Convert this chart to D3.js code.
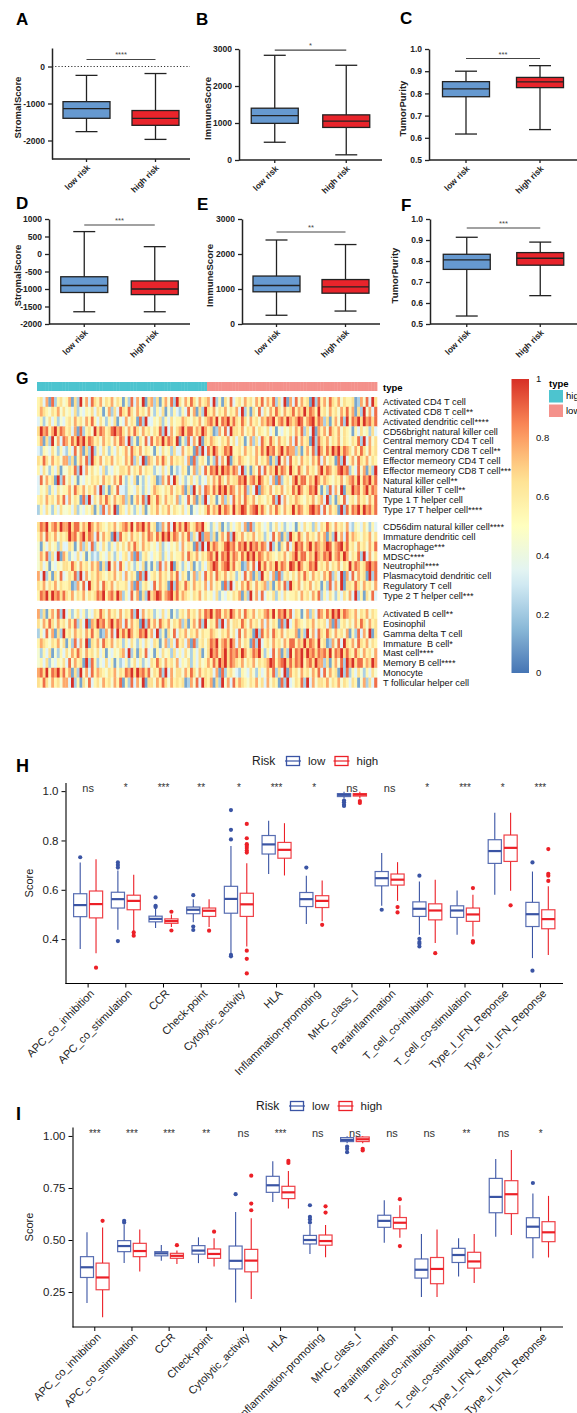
<!DOCTYPE html>
<html>
<head>
<meta charset="utf-8">
<script src="https://cdn.jsdelivr.net/npm/d3@7"></script>
<style>
  body { margin: 0; background: #fff; }
  svg { display: block; font-family: Arial, "Liberation Sans", sans-serif; }
  .pre { white-space: pre; }
</style>
</head>
<body>
<svg id="fig" width="577" height="1413"></svg>
<script>
// ---------- data: panels A-F (whisker low, Q1, median, Q3, whisker high) ----------
const riskGroups = ["low risk", "high risk"];
const aLow = [-1760, -1400, -1140, -950, -240], aHigh = [-1970, -1590, -1400, -1190, -190];
const bLow = [480, 990, 1200, 1400, 2830], bHigh = [140, 880, 1050, 1220, 2560];
const cLow = [0.617, 0.785, 0.82, 0.853, 0.90], cHigh = [0.637, 0.826, 0.852, 0.872, 0.925];
const dLow = [-1650, -1100, -900, -650, 640], dHigh = [-1650, -1160, -1000, -770, 210];
const eLow = [250, 920, 1100, 1370, 2400], eHigh = [370, 880, 1060, 1270, 2270];
const fLow = [0.538, 0.76, 0.805, 0.832, 0.913], fHigh = [0.635, 0.78, 0.813, 0.84, 0.89];

// ---------- data: panel G heatmap ----------
const heatGroup1 = ["Activated CD4 T cell", "Activated CD8 T cell**", "Activated dendritic cell****",
  "CD56bright natural killer cell", "Central memory CD4 T cell", "Central memory CD8 T cell**",
  "Effector memeory CD4 T cell", "Effector memeory CD8 T cell***", "Natural killer cell**",
  "Natural killer T cell**", "Type 1 T helper cell", "Type 17 T helper cell****"];
const heatGroup2 = ["CD56dim natural killer cell****", "Immature dendritic cell", "Macrophage***",
  "MDSC****", "Neutrophil****", "Plasmacytoid dendritic cell", "Regulatory T cell", "Type 2 T helper cell***"];
const heatGroup3 = ["Activated B cell**", "Eosinophil", "Gamma delta T cell", "Immature  B cell*",
  "Mast cell****", "Memory B cell****", "Monocyte", "T follicular helper cell"];
const nHigh = 60, nLow = 60;
// one string per row, digit d -> score d/9 ; first 60 samples high risk, last 60 low risk
const heatValues = [
  "5637182564 5716294738 6574657465 1528374916 7261574829 6475864756 7392516483 5647564758 4758263917 3847561928 5748657465 5612748396",
  "5765465746 4536243546 3651472638 6586475647 4253614253 2538471629 6574657465 7392516483 6475864756 8576968759 5647564758 5716294738",
  "3524635243 5647564758 5364253614 3746518293 3546253645 5765465746 7869587968 6586475647 6879578697 6798578968 7261574829 5879697868",
  "6978579687 5637182564 9687568978 6475864756 4658293746 7968857697 5612748396 6574657465 4635143546 4758263917 5748657465 4153645263",
  "5716294738 7586979687 5647564758 7392516483 8576968759 1528374916 5765465746 3651472638 6586475647 3847561928 6574657465 4658293746",
  "3254364253 2538471629 2536425364 5748657465 4153645263 3746518293 8697568795 5647564758 6978579687 7261574829 7586979687 6475864756",
  "6586475647 7261574829 6574657465 4758263917 6475864756 5637182564 1528374916 5765465746 5716294738 5647564758 3746518293 5748657465",
  "5364253614 4658293746 4536243546 6574657465 5243635142 3651472638 5879697868 7392516483 8576968759 6586475647 9687568978 2538471629",
  "3847561928 4635143546 5647564758 4253614253 5612748396 3524635243 6475864756 6879578697 5637182564 7968857697 5765465746 7869587968",
  "3546253645 5748657465 7392516483 3254364253 5765465746 5716294738 7586979687 4758263917 6574657465 8697568795 1528374916 6978579687",
  "5647564758 3746518293 6475864756 7261574829 6586475647 2538471629 3651472638 5748657465 4658293746 5765465746 7392516483 5647564758",
  "2536425364 4536243546 1528374916 5364253614 6574657465 4635143546 8576968759 6798578968 6475864756 9687568978 3847561928 5879697868",
  "6879578697 7968857697 5765465746 7869587968 5612748396 8697568795 4253614253 5637182564 3524635243 4153645263 6586475647 3254364253",
  "5748657465 6978579687 3847561928 5647564758 7586979687 4758263917 7261574829 6574657465 2538471629 6586475647 5716294738 5765465746",
  "4153645263 3651472638 2536425364 6475864756 4536243546 3746518293 9687568978 5879697868 7392516483 6978579687 6798578968 5647564758",
  "4758263917 5243635142 3254364253 5637182564 3546253645 5748657465 7869587968 7586979687 5765465746 7968857697 6879578697 4658293746",
  "4635143546 6586475647 5716294738 5364253614 1528374916 4253614253 6798578968 5612748396 8576968759 8697568795 6574657465 9687568978",
  "7392516483 4658293746 5765465746 3746518293 5647564758 3651472638 5748657465 2538471629 5637182564 6475864756 4758263917 3847561928",
  "6574657465 5612748396 5748657465 5637182564 3847561928 6586475647 3746518293 6475864756 7261574829 6574657465 1528374916 6586475647",
  "5879697868 6574657465 6879578697 2538471629 6798578968 5765465746 4536243546 5716294738 3546253645 5647564758 2536425364 7392516483",
  "7261574829 3524635243 6586475647 4658293746 5243635142 5647564758 7968857697 5748657465 7869587968 3651472638 7586979687 6574657465",
  "6475864756 4758263917 6978579687 3847561928 5748657465 7261574829 4658293746 6586475647 3746518293 5765465746 5637182564 6475864756",
  "2538471629 5647564758 5612748396 8697568795 7392516483 6574657465 5765465746 3847561928 5748657465 5716294738 6586475647 1528374916",
  "5765465746 1528374916 5748657465 2536425364 3651472638 5637182564 6879578697 3746518293 5647564758 8576968759 5612748396 5748657465",
  "4253614253 6475864756 4635143546 7392516483 4153645263 5364253614 6978579687 8697568795 2538471629 5879697868 7869587968 6586475647",
  "4536243546 3847561928 5243635142 3524635243 6586475647 3546253645 7586979687 6574657465 6798578968 6879578697 7261574829 7968857697",
  "7869587968 5716294738 5765465746 5879697868 4658293746 6475864756 5637182564 3254364253 4758263917 5647564758 3847561928 2536425364",
  "6586475647 7392516483 5647564758 1528374916 6475864756 5612748396 5716294738 5765465746 3746518293 4658293746 6574657465 3651472638"
];
const colorTicks = [0, 0.2, 0.4, 0.6, 0.8, 1];

// ---------- data: panels H and I (whisker low, Q1, median, Q3, whisker high) ----------
const ggCats = ["APC_co_inhibition", "APC_co_stimulation", "CCR", "Check-point", "Cytolytic_activity",
  "HLA", "Inflammation-promoting", "MHC_class_I", "Parainflammation", "T_cell_co-inhibition",
  "T_cell_co-stimulation", "Type_I_IFN_Reponse", "Type_II_IFN_Reponse"];
const hLow = [[0.36,0.491,0.538,0.584,0.711],[0.438,0.526,0.562,0.59,0.678],[0.445,0.47,0.482,0.493,0.522],
  [0.468,0.503,0.519,0.53,0.562],[0.343,0.505,0.563,0.614,0.778],[0.664,0.745,0.784,0.82,0.88],
  [0.461,0.532,0.562,0.589,0.657],[0.97,0.978,0.985,0.99,0.998],[0.535,0.616,0.647,0.674,0.749],
  [0.418,0.492,0.523,0.551,0.634],[0.418,0.488,0.516,0.535,0.597],[0.58,0.707,0.757,0.803,0.912],
  [0.323,0.451,0.501,0.549,0.674]];
const hLowOut = [[0.732],[0.711,0.70,0.69,0.392],[0.569,0.535,0.53],[0.578,0.451,0.437],
  [0.923,0.843,0.804,0.336,0.33],[],[0.69],[0.962,0.955,0.945,0.94],[0.519],
  [0.657,0.401,0.388,0.381,0.37],[],[],[0.711,0.272]];
const hHigh = [[0.343,0.486,0.542,0.595,0.724],[0.431,0.519,0.555,0.578,0.661],[0.449,0.464,0.473,0.482,0.50],
  [0.449,0.492,0.515,0.526,0.562],[0.37,0.492,0.541,0.586,0.708],[0.658,0.728,0.762,0.792,0.87],
  [0.472,0.528,0.555,0.576,0.638],[0.97,0.98,0.986,0.99,0.998],[0.555,0.619,0.641,0.664,0.712],
  [0.384,0.478,0.516,0.543,0.641],[0.411,0.472,0.50,0.526,0.58],[0.596,0.715,0.77,0.822,0.912],
  [0.336,0.442,0.481,0.519,0.614]];
const hHighOut = [[0.284],[0.427,0.414],[0.511,0.435],[0.434],
  [0.867,0.809,0.785,0.778,0.769,0.759,0.751,0.353,0.32,0.261],[],[0.458],[0.96,0.952],[0.53,0.508],
  [0.343],[0.607,0.392,0.386],[0.537],[0.765,0.665,0.657,0.636]];
const hSig = ["ns","*","***","**","*","***","*","ns","ns","*","***","*","***"];

const iLow = [[0.197,0.32,0.369,0.42,0.537],[0.389,0.444,0.471,0.497,0.572],[0.40,0.424,0.436,0.444,0.476],
  [0.389,0.432,0.449,0.473,0.513],[0.20,0.361,0.40,0.471,0.635],[0.683,0.729,0.763,0.806,0.879],
  [0.433,0.481,0.50,0.522,0.572],[0.965,0.973,0.981,0.992,0.998],[0.487,0.561,0.592,0.619,0.691],
  [0.226,0.317,0.357,0.409,0.529],[0.325,0.392,0.428,0.46,0.508],[0.516,0.631,0.707,0.796,0.889],
  [0.412,0.511,0.564,0.607,0.723]];
const iLowOut = [[],[0.592,0.584],[],[],[0.72],[],[0.667,0.611,0.599,0.584],[0.949,0.938,0.922],[],[],[],[],[0.774]];
const iHigh = [[0.129,0.261,0.32,0.389,0.56],[0.349,0.42,0.447,0.484,0.551],[0.385,0.412,0.424,0.436,0.449],
  [0.373,0.412,0.433,0.457,0.508],[0.217,0.347,0.401,0.455,0.604],[0.651,0.699,0.729,0.758,0.831],
  [0.417,0.475,0.495,0.524,0.572],[0.965,0.973,0.984,0.995,0.998],[0.511,0.554,0.583,0.608,0.667],
  [0.226,0.29,0.361,0.416,0.551],[0.293,0.365,0.397,0.441,0.529],[0.524,0.627,0.72,0.785,0.933],
  [0.416,0.492,0.537,0.588,0.712]];
const iHighOut = [[0.592],[],[0.475],[0.54],[0.809,0.675,0.643],[0.88,0.87],[0.662,0.632],[0.938,0.93],
  [0.696,0.471],[],[],[],[]];
const iSig = ["***","***","***","**","ns","***","ns","ns","ns","ns","**","ns","*"];

const svg = d3.select("#fig");
const ink = "#222";

function panelLetter(txt, x, y, size) {
  svg.append("text").attr("x", x).attr("y", y).attr("font-size", size)
    .attr("font-weight", "bold").attr("fill", "#000").text(txt);
}

// ---------- Prism style boxplots (A-F) ----------
function prismPanel(p) {
  const g = svg.append("g");
  const x = d3.scalePoint().domain(riskGroups).range([p.left, p.right]).padding(0.5);
  const y = d3.scaleLinear().domain(p.domain).range([p.bottom, p.top]);
  const bw = 47, cap = 22;
  const boxes = [{k: riskGroups[0], s: p.low, fill: "#6699d0"}, {k: riskGroups[1], s: p.high, fill: "#e8242b"}];

  if (p.zero) {
    g.append("line").attr("x1", p.left).attr("x2", p.right).attr("y1", y(0)).attr("y2", y(0))
      .attr("stroke", "#333").attr("stroke-width", 1).attr("stroke-dasharray", "1.2,2");
  }
  boxes.forEach(b => {
    const cx = x(b.k), s = b.s;
    g.append("line").attr("x1", cx).attr("x2", cx).attr("y1", y(s[0])).attr("y2", y(s[4]))
      .attr("stroke", ink).attr("stroke-width", 1.3);
    [s[0], s[4]].forEach(v => g.append("line").attr("x1", cx - cap / 2).attr("x2", cx + cap / 2)
      .attr("y1", y(v)).attr("y2", y(v)).attr("stroke", ink).attr("stroke-width", 1.3));
    g.append("rect").attr("x", cx - bw / 2).attr("y", y(s[3])).attr("width", bw)
      .attr("height", y(s[1]) - y(s[3])).attr("fill", b.fill).attr("stroke", ink).attr("stroke-width", 1.3);
    g.append("line").attr("x1", cx - bw / 2).attr("x2", cx + bw / 2).attr("y1", y(s[2])).attr("y2", y(s[2]))
      .attr("stroke", ink).attr("stroke-width", 1.3);
  });

  // y axis
  const ya = g.append("g").attr("transform", `translate(${p.left},0)`)
    .call(d3.axisLeft(y).tickValues(p.ticks).tickSize(4).tickSizeOuter(0).tickFormat(p.fmt));
  ya.select(".domain").attr("stroke", ink).attr("stroke-width", 1.5);
  ya.selectAll(".tick line").attr("stroke", ink).attr("stroke-width", 1.3);
  ya.selectAll(".tick text").attr("font-size", 8.5).attr("font-weight", "bold").attr("fill", ink)
    .attr("font-family", "Arial, 'Liberation Sans', sans-serif");

  // x axis
  g.append("line").attr("x1", p.left).attr("x2", p.right).attr("y1", p.bottom).attr("y2", p.bottom)
    .attr("stroke", ink).attr("stroke-width", 1.5);
  riskGroups.forEach(k => {
    g.append("line").attr("x1", x(k)).attr("x2", x(k)).attr("y1", p.bottom).attr("y2", p.bottom + 3)
      .attr("stroke", ink).attr("stroke-width", 1.3);
    g.append("text").attr("transform", `translate(${x(k) + 2},${p.bottom + 7}) rotate(-45)`)
      .attr("text-anchor", "end").attr("dy", "0.35em").attr("font-size", 8.5).attr("font-weight", "bold")
      .attr("fill", ink).text(k);
  });

  // y label
  g.append("text").attr("transform", `translate(${p.ylabX},${(p.top + p.bottom) / 2 + 4}) rotate(-90)`)
    .attr("text-anchor", "middle").attr("font-size", 9.5).attr("font-weight", "bold").attr("fill", ink)
    .text(p.ylab);

  // significance bar
  const sy = y(p.sigVal);
  g.append("line").attr("x1", x(riskGroups[0])).attr("x2", x(riskGroups[1])).attr("y1", sy).attr("y2", sy)
    .attr("stroke", "#444").attr("stroke-width", 1.1);
  g.append("text").attr("x", (x(riskGroups[0]) + x(riskGroups[1])) / 2).attr("y", sy - 2)
    .attr("text-anchor", "middle").attr("font-size", 7.5).attr("fill", "#444").text(p.sig);

  panelLetter(p.letter, p.lx, p.ly, 17);
}

const str = d => String(d);
const dec1 = d3.format(".1f");
prismPanel({letter: "A", lx: 16, ly: 25, left: 52, right: 190, top: 48, bottom: 159, domain: [-2500, 500],
  ticks: [-2000, -1000, 0], fmt: str, ylab: "StromalScore", ylabX: 21, low: aLow, high: aHigh,
  sig: "****", sigVal: 190, zero: true});
prismPanel({letter: "B", lx: 196, ly: 25, left: 239, right: 382, top: 49, bottom: 160, domain: [0, 3000],
  ticks: [0, 1000, 2000, 3000], fmt: str, ylab: "ImmuneScore", ylabX: 211, low: bLow, high: bHigh,
  sig: "*", sigVal: 2970});
prismPanel({letter: "C", lx: 400, ly: 24, left: 429, right: 577, top: 49, bottom: 160, domain: [0.5, 1.0],
  ticks: d3.range(0.5, 1.01, 0.1), fmt: dec1, ylab: "TumorPurity", ylabX: 406, low: cLow, high: cHigh,
  sig: "***", sigVal: 0.957});
prismPanel({letter: "D", lx: 16, ly: 209, left: 49, right: 190, top: 219, bottom: 324, domain: [-2000, 1000],
  ticks: d3.range(-2000, 1001, 500), fmt: str, ylab: "StromalScore", ylabX: 21, low: dLow, high: dHigh,
  sig: "***", sigVal: 830});
prismPanel({letter: "E", lx: 197, ly: 210, left: 242, right: 380, top: 219, bottom: 324, domain: [0, 3000],
  ticks: [0, 1000, 2000, 3000], fmt: str, ylab: "ImmuneScore", ylabX: 213, low: eLow, high: eHigh,
  sig: "**", sigVal: 2630});
prismPanel({letter: "F", lx: 401, ly: 211, left: 430, right: 577, top: 219, bottom: 324, domain: [0.5, 1.0],
  ticks: d3.range(0.5, 1.01, 0.1), fmt: dec1, ylab: "TumorPurity", ylabX: 398, low: fLow, high: fHigh,
  sig: "***", sigVal: 0.957});

// ---------- G: heatmap ----------
(function heatmap() {
  const g = svg.append("g");
  const rowsDigits = heatValues.map(s => s.replace(/ /g, ""));
  const nCols = d3.max(rowsDigits, s => s.length);
  const xCol = d3.scaleBand().domain(d3.range(nCols)).range([37, 377]);
  const pal = d3.schemeRdYlBu[7].slice().reverse();
  const colour = d3.scaleLinear().domain(d3.range(pal.length).map(i => i / (pal.length - 1))).range(pal)
    .interpolate(d3.interpolateRgb);
  const rowH = 9.8;
  const groups = [{rows: heatGroup1, y0: 397}, {rows: heatGroup2, y0: 522}, {rows: heatGroup3, y0: 609}];

  // type annotation
  const typeCol = {high: "#4dc4cf", low: "#f4918b"};
  d3.range(nCols).forEach(i => {
    const t = i < nHigh ? "high" : "low";
    g.append("rect").attr("x", xCol(i)).attr("y", 382).attr("width", xCol.bandwidth() + 0.4)
      .attr("height", 9).attr("fill", typeCol[t]);
  });
  g.append("text").attr("x", 383).attr("y", 390.5).attr("font-size", 9.5).attr("font-weight", "bold")
    .text("type");

  let r = 0;
  groups.forEach(grp => {
    const yRow = d3.scaleBand().domain(grp.rows).range([grp.y0, grp.y0 + grp.rows.length * rowH]);
    grp.rows.forEach(name => {
      const vals = rowsDigits[r].split("").map(c => +c / 9);
      vals.forEach((v, i) => {
        g.append("rect").attr("x", xCol(i)).attr("y", yRow(name)).attr("width", xCol.bandwidth() + 0.3)
          .attr("height", yRow.bandwidth() + 0.3).attr("fill", colour(v));
      });
      g.append("text").attr("class", "pre")
        .attr("transform", `translate(383,${yRow(name) + yRow.bandwidth() / 2})`)
        .attr("dy", "0.35em").attr("font-size", 9.2).attr("fill", "#111").text(name);
      r++;
    });
  });

  // colour bar
  const cy = d3.scaleLinear().domain([0, 1]).range([673, 379]);
  const grad = svg.append("defs").append("linearGradient").attr("id", "cbar")
    .attr("x1", 0).attr("y1", 1).attr("x2", 0).attr("y2", 0);
  d3.range(0, 1.001, 0.05).forEach(t => grad.append("stop").attr("offset", t).attr("stop-color", colour(t)));
  g.append("rect").attr("x", 511.5).attr("y", cy(1)).attr("width", 17.5).attr("height", cy(0) - cy(1))
    .attr("fill", "url(#cbar)");
  colorTicks.forEach(t => g.append("text").attr("x", 536).attr("y", cy(t)).attr("dy", "0.35em")
    .attr("font-size", 9.5).attr("fill", "#111").text(d3.format("~g")(t)));

  // type legend
  g.append("text").attr("x", 549).attr("y", 386.5).attr("font-size", 9.5).attr("font-weight", "bold").text("type");
  ["high", "low"].forEach((t, i) => {
    g.append("rect").attr("x", 549).attr("y", 390 + i * 14.5).attr("width", 14).attr("height", 12.5)
      .attr("fill", typeCol[t]);
    g.append("text").attr("x", 566).attr("y", 396 + i * 14.5).attr("dy", "0.35em").attr("font-size", 9.5)
      .text(t);
  });
  panelLetter("G", 16, 384, 16);
})();

// ---------- H & I: ggplot style grouped boxplots ----------
const riskCol = {low: "#3a54a4", high: "#ec2027"};

function ggPanel(p) {
  const g = svg.append("g");
  const x = d3.scaleBand().domain(ggCats).range([p.left, p.right]).paddingInner(0).paddingOuter(0.1);
  const y = d3.scaleLinear().domain(p.domain).range([p.bottom, p.top]);
  const step = x.step(), bw = step * 0.35, dodge = step * 0.21;
  const series = [
    {stats: p.low, out: p.lowOut, col: riskCol.low, dx: -dodge},
    {stats: p.high, out: p.highOut, col: riskCol.high, dx: dodge}
  ];
  series.forEach(sr => {
    ggCats.forEach((c, i) => {
      const s = sr.stats[i], cx = x(c) + x.bandwidth() / 2 + sr.dx;
      g.append("line").attr("x1", cx).attr("x2", cx).attr("y1", y(s[0])).attr("y2", y(s[1]))
        .attr("stroke", sr.col).attr("stroke-width", 1.1);
      g.append("line").attr("x1", cx).attr("x2", cx).attr("y1", y(s[3])).attr("y2", y(s[4]))
        .attr("stroke", sr.col).attr("stroke-width", 1.1);
      g.append("rect").attr("x", cx - bw / 2).attr("y", y(s[3])).attr("width", bw)
        .attr("height", Math.max(1, y(s[1]) - y(s[3]))).attr("fill", "#fff")
        .attr("stroke", sr.col).attr("stroke-width", 1.2).attr("stroke-opacity", 0.85);
      g.append("line").attr("x1", cx - bw / 2).attr("x2", cx + bw / 2).attr("y1", y(s[2])).attr("y2", y(s[2]))
        .attr("stroke", sr.col).attr("stroke-width", 2.2);
      sr.out[i].forEach(v => g.append("circle").attr("cx", cx).attr("cy", y(v)).attr("r", 2.1)
        .attr("fill", sr.col));
    });
  });

  // significance labels
  ggCats.forEach((c, i) => g.append("text").attr("x", x(c) + x.bandwidth() / 2).attr("y", y(1.013))
    .attr("dy", "0.35em").attr("text-anchor", "middle").attr("font-size", p.sig[i] === "ns" ? 11 : 10)
    .attr("fill", "#333").text(p.sig[i]));

  // axes
  const ya = g.append("g").attr("transform", `translate(${p.left},0)`)
    .call(d3.axisLeft(y).tickValues(p.ticks).tickSize(4).tickSizeOuter(0).tickFormat(p.fmt));
  ya.select(".domain").attr("stroke", "#000").attr("stroke-width", 1.1);
  ya.selectAll(".tick line").attr("stroke", "#000");
  ya.selectAll(".tick text").attr("font-size", 11.5).attr("fill", "#222")
    .attr("font-family", "Arial, 'Liberation Sans', sans-serif");
  g.append("line").attr("x1", p.left).attr("x2", p.right).attr("y1", p.bottom).attr("y2", p.bottom)
    .attr("stroke", "#000").attr("stroke-width", 1.1);
  ggCats.forEach(c => {
    const cx = x(c) + x.bandwidth() / 2;
    g.append("line").attr("x1", cx).attr("x2", cx).attr("y1", p.bottom).attr("y2", p.bottom + 4)
      .attr("stroke", "#000");
    g.append("text").attr("transform", `translate(${cx + 4},${p.bottom + 8}) rotate(-45)`)
      .attr("text-anchor", "end").attr("dy", "0.35em").attr("font-size", 11).attr("fill", "#222").text(c);
  });
  g.append("text").attr("transform", `translate(${p.scoreX},${(p.top + p.bottom) / 2}) rotate(-90)`)
    .attr("text-anchor", "middle").attr("font-size", 11).attr("fill", "#222").text("Score");

  // legend
  const ly = p.legendY;
  g.append("text").attr("x", p.legendX).attr("y", ly).attr("dy", "0.35em").attr("font-size", 12)
    .attr("fill", "#222").text("Risk");
  [["low", riskCol.low], ["high", riskCol.high]].forEach(([k, col], i) => {
    const kx = p.legendX + 33 + i * 48.5;
    g.append("line").attr("x1", kx).attr("x2", kx + 16).attr("y1", ly).attr("y2", ly).attr("stroke", col)
      .attr("stroke-width", 1.2);
    g.append("rect").attr("x", kx + 1.5).attr("y", ly - 4.5).attr("width", 13).attr("height", 9)
      .attr("fill", "none").attr("stroke", col).attr("stroke-width", 1.3);
    g.append("text").attr("x", kx + 23).attr("y", ly).attr("dy", "0.35em").attr("font-size", 11.5)
      .attr("fill", "#222").text(k);
  });
  panelLetter(p.letter, p.lx, p.ly, 18);
}

ggPanel({letter: "H", lx: 16, ly: 772, left: 65.5, right: 563, top: 782.5, bottom: 983.5, domain: [0.22, 1.035],
  ticks: [0.4, 0.6, 0.8, 1.0], fmt: dec1, low: hLow, lowOut: hLowOut, high: hHigh, highOut: hHighOut,
  sig: hSig, legendX: 252, legendY: 761, scoreX: 33});
ggPanel({letter: "I", lx: 16, ly: 1120, left: 72.5, right: 563, top: 1127, bottom: 1327, domain: [0.082, 1.043],
  ticks: [0.25, 0.5, 0.75, 1.0], fmt: d3.format(".2f"), low: iLow, lowOut: iLowOut, high: iHigh, highOut: iHighOut,
  sig: iSig, legendX: 256, legendY: 1106, scoreX: 33});
</script>
</body>
</html>
